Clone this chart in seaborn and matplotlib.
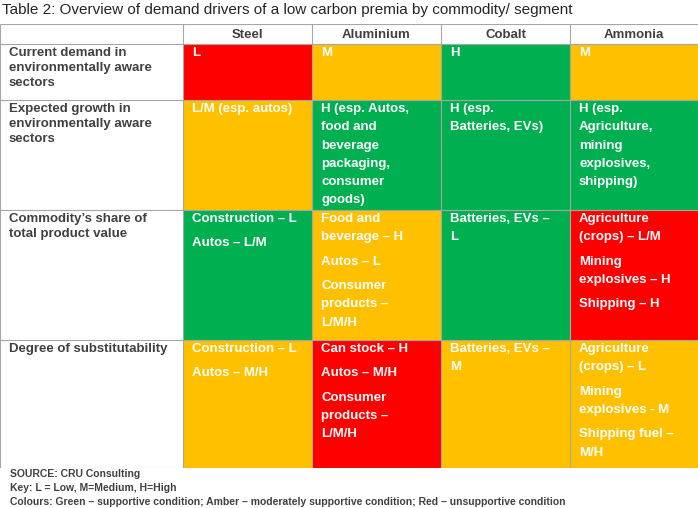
import numpy as np
import matplotlib
matplotlib.use("Agg")
import matplotlib.pyplot as plt
from matplotlib.colors import ListedColormap
import seaborn as sns

commodities = ["Steel", "Aluminium", "Cobalt", "Ammonia"]
row_labels = [
    "Current demand in\nenvironmentally aware\nsectors",
    "Expected growth in\nenvironmentally aware\nsectors",
    "Commodity\u2019s share of\ntotal product value",
    "Degree of substitutability",
]
# 1 = red, 2 = amber, 3 = green
status = [
    [1, 2, 3, 2],
    [2, 3, 3, 3],
    [3, 2, 3, 1],
    [2, 1, 2, 2],
]
cell_text = [
    [["L"], ["M"], ["H"], ["M"]],
    [["L/M (esp. autos)"],
     ["H (esp. Autos,\nfood and\nbeverage\npackaging,\nconsumer\ngoods)"],
     ["H (esp.\nBatteries, EVs)"],
     ["H (esp.\nAgriculture,\nmining\nexplosives,\nshipping)"]],
    [["Construction \u2013 L", "Autos \u2013 L/M"],
     ["Food and\nbeverage \u2013 H", "Autos \u2013 L", "Consumer\nproducts \u2013\nL/M/H"],
     ["Batteries, EVs \u2013\nL"],
     ["Agriculture\n(crops) \u2013 L/M", "Mining\nexplosives \u2013 H", "Shipping \u2013 H"]],
    [["Construction \u2013 L", "Autos \u2013 M/H"],
     ["Can stock \u2013 H", "Autos \u2013 M/H", "Consumer\nproducts \u2013\nL/M/H"],
     ["Batteries, EVs \u2013\nM"],
     ["Agriculture\n(crops) \u2013 L", "Mining\nexplosives - M", "Shipping fuel \u2013\nM/H"]],
]
title = "Table 2: Overview of demand drivers of a low carbon premia by commodity/ segment"
footer = [
    "SOURCE: CRU Consulting",
    "Key: L = Low, M=Medium, H=High",
    "Colours: Green \u2013 supportive condition; Amber \u2013 moderately supportive condition; Red \u2013 unsupportive condition",
]

# layout in pixels
row_heights = [20, 56, 110, 130, 128]
col_widths = [183, 129, 129, 129, 128]

plt.rcParams['font.family'] = ['Liberation Sans', 'DejaVu Sans']
grey = "#404040"

# logical grid incl. header row / label column (0 = white)
logical = np.zeros((5, 5), dtype=int)
logical[1:, 1:] = np.array(status)
grid = np.repeat(np.repeat(logical, row_heights, axis=0), col_widths, axis=1)

fig = plt.figure(figsize=(6.98, 5.08), dpi=100)
total_h = sum(row_heights)
ax = fig.add_axes([0, 40 / 508, 1, total_h / 508])
cmap = ListedColormap(["#FFFFFF", "#FF0000", "#FFC000", "#00B050"])
sns.heatmap(grid, cmap=cmap, vmin=-0.5, vmax=3.5, cbar=False, ax=ax,
            xticklabels=False, yticklabels=False, rasterized=True)

ys = np.concatenate([[0], np.cumsum(row_heights)])
xs = np.concatenate([[0], np.cumsum(col_widths)])
ax.hlines(ys, 0, xs[-1], color="#A6A6A6", lw=0.8)
ax.vlines(xs, 0, ys[-1], color="#A6A6A6", lw=0.8)

fs = 9.5
line_h = 18.3
for j, name in enumerate(commodities):
    ax.text((xs[j + 1] + xs[j + 2]) / 2, ys[1] / 2 + 1, name, ha="center", va="center",
            fontsize=fs, fontweight="bold", color=grey)
for i, lab in enumerate(row_labels):
    ax.text(xs[0] + 9, ys[i + 1] + 3, lab, ha="left", va="top", fontsize=fs,
            fontweight="bold", color=grey, linespacing=1.35)
    for j in range(4):
        y = ys[i + 1] + 3
        for para in cell_text[i][j]:
            for line in para.split("\n"):
                ax.text(xs[j + 1] + 9, y, line, ha="left", va="top", fontsize=fs,
                        fontweight="bold", color="white")
                y += line_h
            y += 6

fig.text(2 / 698, 1 - 10 / 508, title, ha="left", va="center", fontsize=11, color="#262626")
for k, f in enumerate(footer):
    fig.text(10 / 698, 1 - (474 + 14 * k) / 508, f, ha="left", va="center",
             fontsize=7.5, fontweight="bold", color=grey)

fig.savefig("out.png", dpi=100)
